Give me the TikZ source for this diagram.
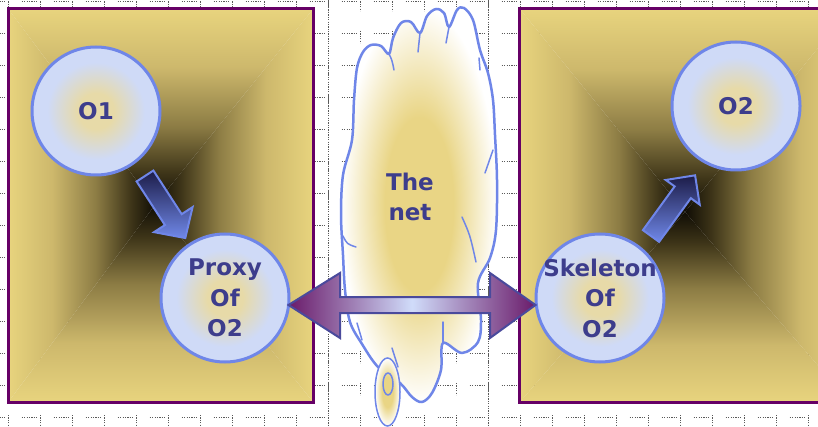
\documentclass[tikz,border=0pt]{standalone}
\usepackage{fontspec}
\setmainfont{DejaVu Sans}
\usetikzlibrary{calc,shapes.geometric}

% palette
\definecolor{pantan}{HTML}{E8D47E}
\definecolor{panL}{HTML}{CDB86C}
\definecolor{panM}{HTML}{8C7C44}
\definecolor{panD}{HTML}{3D3418}
\definecolor{panC}{HTML}{100D05}
\definecolor{rim}{HTML}{660066}
\definecolor{bubcore}{HTML}{E7DAA8}
\definecolor{bubedge}{HTML}{CFDAF7}
\definecolor{bubline}{HTML}{6F86E8}
\definecolor{inkblue}{HTML}{3D3D8C}
\definecolor{cloudtan}{HTML}{E9D585}
\definecolor{arrdark}{HTML}{1C1C48}
\definecolor{arrlight}{HTML}{7088E8}
\definecolor{dpurple}{HTML}{6A1B6A}
\definecolor{lav}{HTML}{D0DCFA}
\definecolor{dblline}{HTML}{4A4A9C}
\definecolor{markgray}{HTML}{5A5A5A}

% ramp from the rim of a panel (75bp) to its dark middle (25bp)
\pgfdeclareverticalshading{panelramp}{100bp}{color(0bp)=(panC); color(25bp)=(panC); color(33bp)=(panD); color(45bp)=(panM); color(60bp)=(panL); color(75bp)=(pantan); color(100bp)=(pantan)}
\pgfdeclareradialshading{cloudglow}{\pgfpoint{0bp}{0bp}}{color(0bp)=(cloudtan); color(11bp)=(cloudtan); color(25bp)=(white); color(50bp)=(white)}
\pgfdeclareradialshading{bubbleglow}{\pgfpoint{0bp}{0bp}}{color(0bp)=(bubcore); color(7bp)=(bubcore); color(19bp)=(bubedge); color(50bp)=(bubedge)}

\tikzset{
  panelrim/.style={draw=rim, line width=3pt},
  bubble/.style={circle, shading=bubbleglow, draw=bubline, line width=3pt, minimum size=128pt, inner sep=0pt},
  lbl/.style={font=\fontsize{23}{30.5}\selectfont\bfseries, text=inkblue, align=center, inner sep=0pt},
  blockarrow/.style={top color=arrdark, bottom color=arrlight, draw=bubline, line width=2pt, line join=miter},
  gridmark/.style={draw=markgray, line width=0.9pt, dash pattern=on 1.2pt off 1.2pt},
  cloudline/.style={draw=bubline, line width=2.5pt, line join=round},
  puff/.style={draw=bubline, line width=1.5pt, line cap=round},
}

\newcommand{\panelfill}[5]{% #1..#4 corners TL TR BR BL, #5 dark middle
  \shade[shading=panelramp, shading angle=0]   (#1) -- (#2) -- (#5) -- cycle;
  \shade[shading=panelramp, shading angle=180] (#4) -- (#3) -- (#5) -- cycle;
  \shade[shading=panelramp, shading angle=90]  (#1) -- (#4) -- (#5) -- cycle;
  \shade[shading=panelramp, shading angle=-90] (#2) -- (#3) -- (#5) -- cycle;
}

\begin{document}
\begin{tikzpicture}[x=1pt, y=-1pt]
\useasboundingbox (0,0) rectangle (818,427);
\clip (0,0) rectangle (818,427);
\fill[white] (0,0) rectangle (818,427);

% dotted grid marks on the page
\foreach \i in {0,...,25} {
  \foreach \j in {0,...,13} {
    \draw[gridmark] ({8.7+32*\i-19},{1+32*\j}) -- ++(15,0);
    \draw[gridmark] ({8.7+32*\i},{1+32*\j-2}) -- ++(0,12);
  }
}
\draw[gridmark] (328,0) -- (328,427);
\draw[gridmark] (488,0) -- (488,427);

% left panel
\coordinate (lpTL) at (8,8.5);
\coordinate (lpTR) at (313.5,8.5);
\coordinate (lpBR) at (313.5,402.5);
\coordinate (lpBL) at (8,402.5);
\coordinate (lpC) at (155,205);
\panelfill{lpTL}{lpTR}{lpBR}{lpBL}{lpC}
\draw[panelrim] (lpTL) rectangle (lpBR);

% right panel
\coordinate (rpTL) at (519.5,8.5);
\coordinate (rpTR) at (850,8.5);
\coordinate (rpBR) at (850,402.5);
\coordinate (rpBL) at (519.5,402.5);
\coordinate (rpC) at (685,212);
\panelfill{rpTL}{rpTR}{rpBR}{rpBL}{rpC}
\draw[panelrim] (rpTL) rectangle (rpBR);

% cloud
\coordinate (netc) at (410,197);
\shade[shading=cloudglow] plot[smooth cycle, tension=0.55] coordinates {
  (352,140) (354,100) (357,68) (363,52) (371,45) (381,46) (389,54)
  (393,38) (401,23) (411,22) (420,33) (427,16) (436,9) (444,13) (449,27)
  (457,10) (464,8) (473,20) (480,50) (488,73) (493,100) (495,135) (497,180)
  (496,230) (490,258) (478,283) (481,320) (478,342) (462,353) (443,343)
  (441,370) (432,393) (422,402) (412,397) (400,383) (378,367) (362,344)
  (350,322) (345,290) (343,255) (341,215) (343,175)};
\draw[cloudline] plot[smooth cycle, tension=0.55] coordinates {
  (352,140) (354,100) (357,68) (363,52) (371,45) (381,46) (389,54)
  (393,38) (401,23) (411,22) (420,33) (427,16) (436,9) (444,13) (449,27)
  (457,10) (464,8) (473,20) (480,50) (488,73) (493,100) (495,135) (497,180)
  (496,230) (490,258) (478,283) (481,320) (478,342) (462,353) (443,343)
  (441,370) (432,393) (422,402) (412,397) (400,383) (378,367) (362,344)
  (350,322) (345,290) (343,255) (341,215) (343,175)};
% puff creases
\draw[puff] (389,54) .. controls (392,60) .. (394,70);
\draw[puff] (420,33) .. controls (419,42) .. (418,52);
\draw[puff] (449,27) .. controls (447,35) .. (446,43);
\draw[puff] (479,58) -- (480,70);
\draw[puff] (343,236) .. controls (347,244) .. (356,247);
\draw[puff] (493,150) -- (485,173);
\draw[puff] (462,217) .. controls (470,235) .. (476,262);
\draw[puff] (357,323) -- (362,340);
\draw[puff] (443,322) -- (443,343);
\draw[puff] (392,348) -- (398,367);
% small trailing puff
\node[ellipse, minimum width=25pt, minimum height=68pt, shading=cloudglow, draw=bubline, line width=1.5pt] (puffA) at (387.5,392) {};
\node[ellipse, minimum width=10pt, minimum height=22pt, draw=bubline, line width=1.5pt] (puffB) at (388,384) {};
\node[lbl] (nettxt) at (netc) {The\\net};

% objects
\node[bubble] (o1) at (96,111) {};
\node[bubble] (proxy) at (225,298) {};
\node[bubble] (o2) at (736,106) {};
\node[bubble] (skel) at (600,298) {};
\node[lbl] (o1txt) at (o1) {O1};
\node[lbl] (proxytxt) at (proxy) {Proxy\\Of\\O2};
\node[lbl] (o2txt) at (o2) {O2};
\node[lbl] (skeltxt) at (skel) {Skeleton\\Of\\O2};

% block arrow O1 -> proxy
\begin{scope}[shift={(145,176)}, rotate=-57]
  \coordinate (pa1) at (0,-10);  \coordinate (pa2) at (52,-10);
  \coordinate (pa3) at (52,-23); \coordinate (pa4) at (74,0);
  \coordinate (pa5) at (52,23); \coordinate (pa6) at (52,10);
  \coordinate (pa7) at (0,10);
\end{scope}
\shade[blockarrow] (pa1) -- (pa2) -- (pa3) -- (pa4) -- (pa5) -- (pa6) -- (pa7) -- cycle;

% block arrow skeleton -> O2
\begin{scope}[shift={(651,236)}, rotate=54]
  \coordinate (sa1) at (0,-10);  \coordinate (sa2) at (54,-10);
  \coordinate (sa3) at (54,-21); \coordinate (sa4) at (75,0);
  \coordinate (sa5) at (54,21); \coordinate (sa6) at (54,10);
  \coordinate (sa7) at (0,10);
\end{scope}
\shade[blockarrow] (sa1) -- (sa2) -- (sa3) -- (sa4) -- (sa5) -- (sa6) -- (sa7) -- cycle;

% double arrow across the net
\coordinate (dL) at ($(proxy.east)+(-2,7)$);
\coordinate (dR) at ($(skel.west)+(1,7)$);
\shade[left color=dpurple, right color=dpurple, middle color=lav, draw=dblline, line width=2pt, line join=miter]
  (dL) -- (340,273) -- (340,297) -- (490,297) -- (490,273) -- (dR)
  -- (490,338) -- (490,313) -- (340,313) -- (340,338) -- cycle;
\end{tikzpicture}
\end{document}
